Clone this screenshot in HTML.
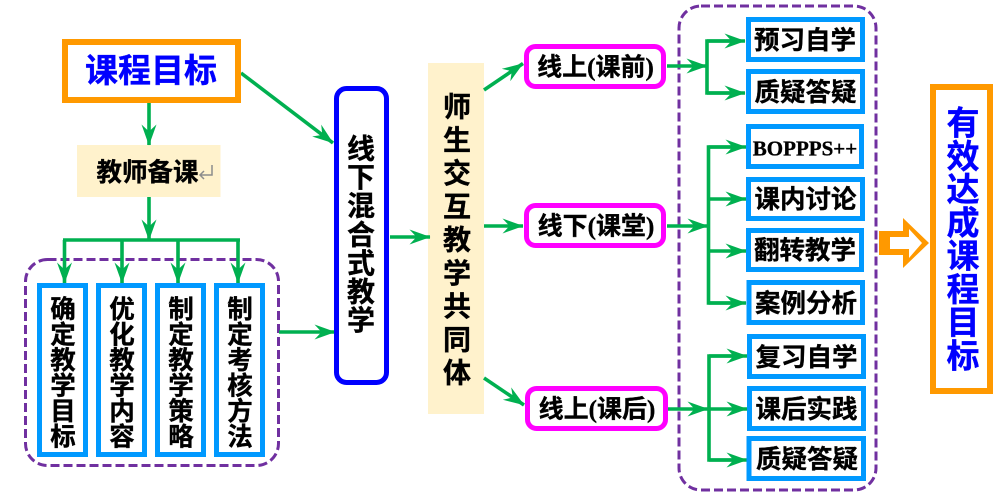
<!DOCTYPE html>
<html lang="zh-CN">
<head>
<meta charset="utf-8">
<title>课程目标</title>
<style>
html,body{margin:0;padding:0;background:#fff;width:1004px;height:498px;overflow:hidden}
svg{display:block}
text{font-family:"Liberation Sans","Noto Sans CJK SC",sans-serif;font-weight:700;text-anchor:middle;fill:#000;stroke:#000;stroke-width:.35px}
.b{fill:#0000ff;stroke:#0000ff}
.m{font-family:"Liberation Serif","Noto Sans CJK SC",serif;font-size:25px}
.s25{font-size:25.5px}
.s28{font-size:28px}
.s33{font-size:33px}
.g{fill:none;stroke:#00b050;stroke-width:3.6}
.a{fill:none;stroke:#00b050;stroke-width:3.6;marker-end:url(#h)}
.bx{fill:#fff;stroke:#0099ff;stroke-width:5}
.mg{fill:#fff;stroke:#ff00ff;stroke-width:5}
.or{fill:#fff;stroke:#ff9900;stroke-width:6}
.d{fill:none;stroke:#7030a0;stroke-width:3;stroke-dasharray:9 4}
</style>
</head>
<body>
<svg width="1004" height="498" viewBox="0 0 1004 498" xmlns="http://www.w3.org/2000/svg">
<defs>
<marker id="h" markerUnits="userSpaceOnUse" markerWidth="21" markerHeight="16" viewBox="0 0 21 16" refX="20.500" refY="8" orient="auto">
<polygon points="21,8 0,0.500 7,8 0,15.500" fill="#00b050"/>
</marker>
</defs>

<!-- dashed groups -->
<rect class="d" x="25.500" y="259.500" width="253" height="206" rx="22"/>
<rect class="d" x="679" y="6" width="197" height="484" rx="22"/>

<!-- beige boxes -->
<rect x="77" y="145" width="143.500" height="52" fill="#fff2cc"/>
<rect x="428" y="63" width="56" height="351" fill="#fff2cc"/>

<!-- connectors: left -->
<path class="a" d="M149 103V145"/>
<path class="a" d="M149 197V240"/>
<path class="g" d="M63 240H240"/>
<path class="a" d="M64.500 240V283"/>
<path class="a" d="M122 240V283"/>
<path class="a" d="M178 240V283"/>
<path class="a" d="M238 240V283"/>
<path class="a" d="M241 73L333 143"/>
<path class="a" d="M279 332H335"/>
<path class="a" d="M390 237H430"/>
<path class="a" d="M484 90L523 63.500"/>
<path class="a" d="M484 226H523"/>
<path class="a" d="M484 378L524 405"/>

<!-- connectors: right -->
<path class="a" d="M667 66H707"/>
<path class="g" d="M740 41H707V93H740"/>
<path class="a" d="M707 41H745"/>
<path class="a" d="M707 93H745"/>
<path class="a" d="M667 226H708"/>
<path class="g" d="M740 147H708.500V303H740"/>
<path class="a" d="M708.500 147H746"/>
<path class="a" d="M708.500 199H746"/>
<path class="a" d="M708.500 251H746"/>
<path class="a" d="M708.500 303H746"/>
<path class="a" d="M668 409H708"/>
<path class="g" d="M740 356H709V460H740"/>
<path class="a" d="M709 356H747"/>
<path class="a" d="M709 409H747"/>
<path class="a" d="M709 460H747"/>

<!-- hollow arrow -->
<path fill="#ff9900" fill-rule="evenodd" d="M879 231H903V218L929 243L903 268V255H879ZM890 237V249H909V258L922 243L909 229V237Z"/>

<!-- top target -->
<rect class="or" x="65" y="42" width="173" height="58"/>
<text class="s33 b" x="151" y="82">课程目标</text>

<!-- teacher prep -->
<text class="s25" x="147.500" y="181">教师备课</text>
<path d="M212 165V175H200M204 171L200 175L204 179" fill="none" stroke="#8c8c8c" stroke-width="1.500"/>

<!-- four vertical boxes -->
<rect class="bx" x="39.500" y="285.500" width="46" height="169"/>
<rect class="bx" x="98.500" y="285.500" width="46" height="169"/>
<rect class="bx" x="157.500" y="285.500" width="46" height="169"/>
<rect class="bx" x="216.500" y="285.500" width="46" height="169"/>

<text class="s25" x="63"><tspan x="63" y="318">确</tspan><tspan x="63" y="343.500">定</tspan><tspan x="63" y="369">教</tspan><tspan x="63" y="394.500">学</tspan><tspan x="63" y="420">目</tspan><tspan x="63" y="445.500">标</tspan></text>
<text class="s25" x="122"><tspan x="122" y="318">优</tspan><tspan x="122" y="343.500">化</tspan><tspan x="122" y="369">教</tspan><tspan x="122" y="394.500">学</tspan><tspan x="122" y="420">内</tspan><tspan x="122" y="445.500">容</tspan></text>
<text class="s25" x="181"><tspan x="181" y="318">制</tspan><tspan x="181" y="343.500">定</tspan><tspan x="181" y="369">教</tspan><tspan x="181" y="394.500">学</tspan><tspan x="181" y="420">策</tspan><tspan x="181" y="445.500">略</tspan></text>
<text class="s25" x="240"><tspan x="240" y="318">制</tspan><tspan x="240" y="343.500">定</tspan><tspan x="240" y="369">考</tspan><tspan x="240" y="394.500">核</tspan><tspan x="240" y="420">方</tspan><tspan x="240" y="445.500">法</tspan></text>

<!-- blended box -->
<rect x="336.500" y="88.500" width="50" height="294" rx="10" fill="#fff" stroke="#0000ff" stroke-width="5"/>
<text class="s28"><tspan x="361" y="158.500">线</tspan><tspan x="361" y="187">下</tspan><tspan x="361" y="215.700">混</tspan><tspan x="361" y="244.300">合</tspan><tspan x="361" y="273">式</tspan><tspan x="361" y="301.500">教</tspan><tspan x="361" y="330">学</tspan></text>

<!-- community column -->
<text class="s28"><tspan x="457" y="116.500">师</tspan><tspan x="457" y="149.800">生</tspan><tspan x="457" y="183">交</tspan><tspan x="457" y="216.300">互</tspan><tspan x="457" y="249.500">教</tspan><tspan x="457" y="282.800">学</tspan><tspan x="457" y="316">共</tspan><tspan x="457" y="349.300">同</tspan><tspan x="457" y="382.500">体</tspan></text>

<!-- magenta boxes -->
<rect class="mg" x="526.500" y="46.500" width="137" height="40" rx="9"/>
<rect class="mg" x="526.500" y="205.500" width="137" height="40" rx="9"/>
<rect class="mg" x="527.500" y="388.500" width="138" height="40" rx="9"/>
<text class="m" x="595.500" y="75.500">线上(课前)</text>
<text class="m" x="596" y="234.500">线下(课堂)</text>
<text class="m" x="597" y="417.500">线上(课后)</text>

<!-- right boxes -->
<rect class="bx" x="748.500" y="19.500" width="114" height="40"/>
<rect class="bx" x="748.500" y="71.500" width="114" height="40"/>
<rect class="bx" x="748.500" y="126.500" width="113" height="40"/>
<rect class="bx" x="748.500" y="179.500" width="114" height="39"/>
<rect class="bx" x="748.500" y="230.500" width="113" height="39"/>
<rect class="bx" x="749" y="282.500" width="113.500" height="40"/>
<rect class="bx" x="749.500" y="336.500" width="114" height="40"/>
<rect class="bx" x="749.500" y="388.500" width="114" height="40"/>
<rect class="bx" x="749" y="438.500" width="114.500" height="40"/>

<text class="s25" x="805" y="49">预习自学</text>
<text class="s25" x="805.500" y="101">质疑答疑</text>
<text x="805" y="155.500" style="font-family:'Liberation Serif',serif;font-size:21px">BOPPPS++</text>
<text class="s25" x="805.500" y="208">课内讨论</text>
<text class="s25" x="805" y="259">翻转教学</text>
<text class="s25" x="806" y="312">案例分析</text>
<text class="s25" x="806.500" y="366">复习自学</text>
<text class="s25" x="806.500" y="418">课后实践</text>
<text class="s25" x="807" y="468">质疑答疑</text>

<!-- result box -->
<rect class="or" x="933" y="87" width="57" height="304"/>
<text class="s33 b"><tspan x="963" y="134.500">有</tspan><tspan x="963" y="167.800">效</tspan><tspan x="963" y="201">达</tspan><tspan x="963" y="234.300">成</tspan><tspan x="963" y="267.600">课</tspan><tspan x="963" y="300.900">程</tspan><tspan x="963" y="334.200">目</tspan><tspan x="963" y="367.500">标</tspan></text>
</svg>
</body>
</html>
